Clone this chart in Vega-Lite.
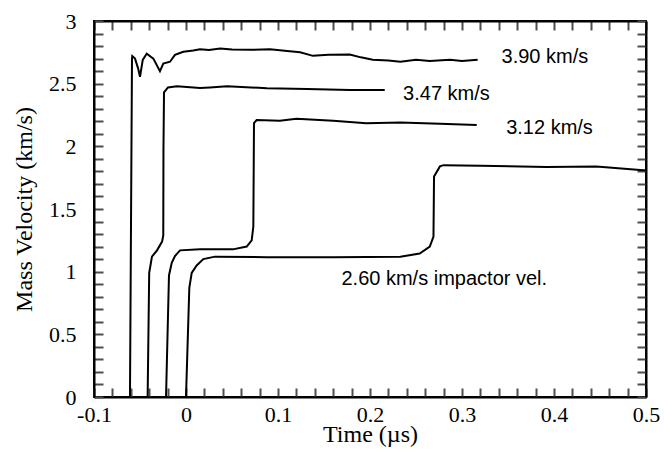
{
  "$schema": "https://vega.github.io/schema/vega-lite/v6.json",
  "width": 552,
  "height": 376,
  "autosize": {"type": "none"},
  "padding": {"left": 94, "top": 21, "right": 18, "bottom": 53},
  "background": "white",
  "view": {"stroke": "black", "strokeWidth": 2},
  "config": {
    "axis": {
      "grid": false,
      "domainColor": "black",
      "domainWidth": 2,
      "labelColor": "black",
      "titleColor": "black",
      "labelFont": "Liberation Serif",
      "titleFont": "Liberation Serif",
      "labelFontSize": 22,
      "titleFontSize": 24,
      "titleFontWeight": "normal"
    }
  },
  "layer": [
    {
      "data": {
        "values": [
          {"s": "3.90", "i": 0, "t": -0.0609, "v": 0},
          {"s": "3.90", "i": 1, "t": -0.0587, "v": 2.70},
          {"s": "3.90", "i": 2, "t": -0.0584, "v": 2.72},
          {"s": "3.90", "i": 3, "t": -0.0554, "v": 2.70},
          {"s": "3.90", "i": 4, "t": -0.052, "v": 2.62},
          {"s": "3.90", "i": 5, "t": -0.050, "v": 2.555},
          {"s": "3.90", "i": 6, "t": -0.047, "v": 2.69},
          {"s": "3.90", "i": 7, "t": -0.0427, "v": 2.74},
          {"s": "3.90", "i": 8, "t": -0.0355, "v": 2.70},
          {"s": "3.90", "i": 9, "t": -0.0283, "v": 2.60},
          {"s": "3.90", "i": 10, "t": -0.0247, "v": 2.66},
          {"s": "3.90", "i": 11, "t": -0.0174, "v": 2.675},
          {"s": "3.90", "i": 12, "t": -0.012, "v": 2.73},
          {"s": "3.90", "i": 13, "t": -0.0029, "v": 2.755},
          {"s": "3.90", "i": 14, "t": 0.0079, "v": 2.765},
          {"s": "3.90", "i": 15, "t": 0.0152, "v": 2.775},
          {"s": "3.90", "i": 16, "t": 0.025, "v": 2.768},
          {"s": "3.90", "i": 17, "t": 0.037, "v": 2.78},
          {"s": "3.90", "i": 18, "t": 0.050, "v": 2.772},
          {"s": "3.90", "i": 19, "t": 0.0696, "v": 2.77},
          {"s": "3.90", "i": 20, "t": 0.0913, "v": 2.775},
          {"s": "3.90", "i": 21, "t": 0.110, "v": 2.76},
          {"s": "3.90", "i": 22, "t": 0.124, "v": 2.75},
          {"s": "3.90", "i": 23, "t": 0.138, "v": 2.722},
          {"s": "3.90", "i": 24, "t": 0.155, "v": 2.73},
          {"s": "3.90", "i": 25, "t": 0.178, "v": 2.733},
          {"s": "3.90", "i": 26, "t": 0.190, "v": 2.71},
          {"s": "3.90", "i": 27, "t": 0.203, "v": 2.69},
          {"s": "3.90", "i": 28, "t": 0.220, "v": 2.685},
          {"s": "3.90", "i": 29, "t": 0.233, "v": 2.675},
          {"s": "3.90", "i": 30, "t": 0.250, "v": 2.69},
          {"s": "3.90", "i": 31, "t": 0.265, "v": 2.68},
          {"s": "3.90", "i": 32, "t": 0.287, "v": 2.69},
          {"s": "3.90", "i": 33, "t": 0.300, "v": 2.68},
          {"s": "3.90", "i": 34, "t": 0.317, "v": 2.69},

          {"s": "3.47", "i": 0, "t": -0.0417, "v": 0},
          {"s": "3.47", "i": 1, "t": -0.0400, "v": 0.99},
          {"s": "3.47", "i": 2, "t": -0.0370, "v": 1.12},
          {"s": "3.47", "i": 3, "t": -0.0315, "v": 1.17},
          {"s": "3.47", "i": 4, "t": -0.0260, "v": 1.24},
          {"s": "3.47", "i": 5, "t": -0.0247, "v": 1.29},
          {"s": "3.47", "i": 6, "t": -0.0245, "v": 1.97},
          {"s": "3.47", "i": 7, "t": -0.0239, "v": 2.43},
          {"s": "3.47", "i": 8, "t": -0.0196, "v": 2.47},
          {"s": "3.47", "i": 9, "t": -0.0098, "v": 2.48},
          {"s": "3.47", "i": 10, "t": 0.0152, "v": 2.465},
          {"s": "3.47", "i": 11, "t": 0.026, "v": 2.47},
          {"s": "3.47", "i": 12, "t": 0.0446, "v": 2.48},
          {"s": "3.47", "i": 13, "t": 0.088, "v": 2.463},
          {"s": "3.47", "i": 14, "t": 0.1315, "v": 2.457},
          {"s": "3.47", "i": 15, "t": 0.178, "v": 2.45},
          {"s": "3.47", "i": 16, "t": 0.216, "v": 2.45},

          {"s": "3.12", "i": 0, "t": -0.0217, "v": 0},
          {"s": "3.12", "i": 1, "t": -0.0185, "v": 0.97},
          {"s": "3.12", "i": 2, "t": -0.0155, "v": 1.07},
          {"s": "3.12", "i": 3, "t": -0.012, "v": 1.125},
          {"s": "3.12", "i": 4, "t": -0.0065, "v": 1.17},
          {"s": "3.12", "i": 5, "t": 0.0152, "v": 1.178},
          {"s": "3.12", "i": 6, "t": 0.051, "v": 1.178},
          {"s": "3.12", "i": 7, "t": 0.066, "v": 1.20},
          {"s": "3.12", "i": 8, "t": 0.0714, "v": 1.25},
          {"s": "3.12", "i": 9, "t": 0.0732, "v": 1.36},
          {"s": "3.12", "i": 10, "t": 0.0739, "v": 2.186},
          {"s": "3.12", "i": 11, "t": 0.0768, "v": 2.21},
          {"s": "3.12", "i": 12, "t": 0.102, "v": 2.205},
          {"s": "3.12", "i": 13, "t": 0.120, "v": 2.22},
          {"s": "3.12", "i": 14, "t": 0.160, "v": 2.205},
          {"s": "3.12", "i": 15, "t": 0.196, "v": 2.185},
          {"s": "3.12", "i": 16, "t": 0.233, "v": 2.19},
          {"s": "3.12", "i": 17, "t": 0.276, "v": 2.18},
          {"s": "3.12", "i": 18, "t": 0.316, "v": 2.17},

          {"s": "2.60", "i": 0, "t": 0.0, "v": 0},
          {"s": "2.60", "i": 1, "t": 0.0036, "v": 0.87},
          {"s": "2.60", "i": 2, "t": 0.0062, "v": 0.99},
          {"s": "2.60", "i": 3, "t": 0.0116, "v": 1.05},
          {"s": "2.60", "i": 4, "t": 0.0188, "v": 1.10},
          {"s": "2.60", "i": 5, "t": 0.0315, "v": 1.12},
          {"s": "2.60", "i": 6, "t": 0.0877, "v": 1.115},
          {"s": "2.60", "i": 7, "t": 0.160, "v": 1.115},
          {"s": "2.60", "i": 8, "t": 0.233, "v": 1.12},
          {"s": "2.60", "i": 9, "t": 0.254, "v": 1.145},
          {"s": "2.60", "i": 10, "t": 0.265, "v": 1.20},
          {"s": "2.60", "i": 11, "t": 0.269, "v": 1.28},
          {"s": "2.60", "i": 12, "t": 0.2696, "v": 1.76},
          {"s": "2.60", "i": 13, "t": 0.276, "v": 1.84},
          {"s": "2.60", "i": 14, "t": 0.280, "v": 1.85},
          {"s": "2.60", "i": 15, "t": 0.320, "v": 1.845},
          {"s": "2.60", "i": 16, "t": 0.392, "v": 1.835},
          {"s": "2.60", "i": 17, "t": 0.446, "v": 1.84},
          {"s": "2.60", "i": 18, "t": 0.497, "v": 1.81},
          {"s": "2.60", "i": 19, "t": 0.500, "v": 1.81}
        ]
      },
      "mark": {"type": "line", "color": "black", "strokeWidth": 2, "clip": true},
      "encoding": {
        "x": {
          "field": "t", "type": "quantitative",
          "scale": {"domain": [-0.1, 0.5], "nice": false, "zero": false},
          "axis": {
            "orient": "bottom",
            "title": "Time (µs)",
            "values": [-0.1,-0.08,-0.06,-0.04,-0.02,0,0.02,0.04,0.06,0.08,0.1,0.12,0.14,0.16,0.18,0.2,0.22,0.24,0.26,0.28,0.3,0.32,0.34,0.36,0.38,0.4,0.42,0.44,0.46,0.48,0.5],
            "labelExpr": "abs(datum.value*10 - round(datum.value*10)) < 0.001 ? (round(datum.value*10)/10) + '' : ''",
            "ticks": true,
            "tickSize": -9,
            "tickColor": "#4d4d4d",
            "tickWidth": 2,
            "labelPadding": 16,
            "labelFlush": false,
            "labelOverlap": false,
            "titlePadding": -3
          }
        },
        "y": {
          "field": "v", "type": "quantitative",
          "scale": {"domain": [0, 3], "nice": false},
          "axis": {
            "orient": "left",
            "title": "Mass Velocity (km/s)",
            "tickCount": 30,
            "labelExpr": "abs(datum.value*2 - round(datum.value*2)) < 0.001 ? (round(datum.value*2)/2) + '' : ''",
            "ticks": true,
            "tickSize": -9,
            "tickColor": "#4d4d4d",
            "tickWidth": 2,
            "labelPadding": 27,
            "labelFlush": false,
            "labelOverlap": false,
            "titlePadding": 12
          }
        },
        "detail": {"field": "s"},
        "order": {"field": "i"}
      }
    },
    {
      "data": {
        "values": [
          {"label": "3.90 km/s", "t": 0.343, "v": 2.71},
          {"label": "3.47 km/s", "t": 0.236, "v": 2.42},
          {"label": "3.12 km/s", "t": 0.348, "v": 2.15},
          {"label": "2.60 km/s impactor vel.", "t": 0.169, "v": 0.94}
        ]
      },
      "mark": {"type": "text", "align": "left", "baseline": "middle", "font": "Liberation Sans", "fontSize": 20, "color": "black"},
      "encoding": {
        "x": {
          "field": "t", "type": "quantitative",
          "axis": {
            "orient": "top",
            "title": null,
            "labels": false,
            "values": [-0.1,-0.08,-0.06,-0.04,-0.02,0,0.02,0.04,0.06,0.08,0.1,0.12,0.14,0.16,0.18,0.2,0.22,0.24,0.26,0.28,0.3,0.32,0.34,0.36,0.38,0.4,0.42,0.44,0.46,0.48,0.5],
            "ticks": true,
            "tickSize": -9,
            "tickColor": "#4d4d4d",
            "tickWidth": 2
          }
        },
        "y": {
          "field": "v", "type": "quantitative",
          "axis": {
            "orient": "right",
            "title": null,
            "labels": false,
            "tickCount": 30,
            "ticks": true,
            "tickSize": -9,
            "tickColor": "#4d4d4d",
            "tickWidth": 2
          }
        },
        "text": {"field": "label"}
      }
    }
  ],
  "resolve": {"axis": {"x": "independent", "y": "independent"}}
}
